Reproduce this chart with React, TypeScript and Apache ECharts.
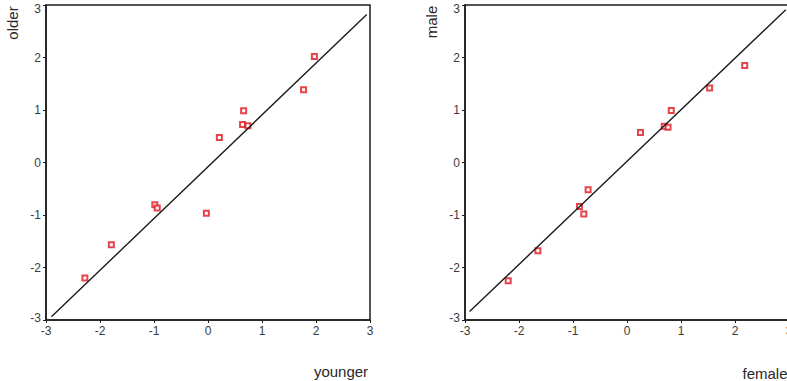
import React, { useEffect, useRef } from "react";
import * as echarts from "echarts";

const axisTicks = [-3, -2, -1, 0, 1, 2, 3];

const youngerValues = [1.97, 1.77, 0.66, 0.64, 0.74, 0.21, -0.985, -0.94, -0.03, -1.79, -2.28];
const olderValues = [2.02, 1.385, 0.985, 0.725, 0.7, 0.475, -0.805, -0.865, -0.965, -1.565, -2.2];

const femaleValues = [2.18, 1.53, 0.82, 0.69, 0.76, 0.25, -0.72, -0.88, -0.8, -1.65, -2.2];
const maleValues = [1.85, 1.42, 0.99, 0.69, 0.67, 0.57, -0.52, -0.84, -0.98, -1.68, -2.25];

const leftLineX = [-2.9, 2.94];
const leftLineY = [-2.94, 2.82];
const rightLineX = [-2.915, 2.94];
const rightLineY = [-2.84, 2.91];

const AXIS_COLOR = "#1c1c1c";
const LABEL_COLOR = "#3a3a3a";
const RED = "#e0141e";

export default function App() {
  const ref = useRef<HTMLDivElement>(null);
  useEffect(() => {
    if (!ref.current) return;
    const chart = echarts.init(ref.current, undefined, { renderer: "svg" });
    const minT = axisTicks[0];
    const maxT = axisTicks[axisTicks.length - 1];
    const labelBase = { color: LABEL_COLOR, fontSize: 12, fontFamily: "Liberation Sans, Arial, sans-serif" };
    const mkAxis = (gridIndex: number, isY: boolean) => ({
      type: "value" as const,
      gridIndex,
      min: minT,
      max: maxT,
      interval: 1,
      axisLine: { show: true, onZero: false, lineStyle: { color: AXIS_COLOR, width: 1.5 } },
      axisTick: { show: true, length: 3, lineStyle: { color: AXIS_COLOR } },
      axisLabel: isY
        ? {
            ...labelBase,
            margin: 5,
            formatter: (v: number) => (v === maxT ? `{top|${v}}` : v === minT ? `{bot|${v}}` : `{n|${v}}`),
            rich: {
              top: { ...labelBase, padding: [8, 0, 0, 0] },
              bot: { ...labelBase, padding: [0, 0, 5, 0] },
              n: { ...labelBase },
            },
          }
        : { ...labelBase, margin: 5 },
      splitLine: { show: false },
    });
    const pairs = (xs: number[], ys: number[]) => xs.map((x, i) => [x, ys[i]]);
    const scatterStyle = {
      symbol: "rect",
      symbolSize: 5,
      itemStyle: { color: "#fff", borderColor: RED, borderWidth: 2 },
    };
    const lineStyle = {
      symbol: "none",
      lineStyle: { color: AXIS_COLOR, width: 1.4 },
      itemStyle: { color: AXIS_COLOR },
    };
    const nameStyle = {
      fill: "#2a2a2a",
      fontSize: 15,
      fontFamily: "Liberation Sans, Arial, sans-serif",
    };
    chart.setOption({
      animation: false,
      backgroundColor: "#fff",
      grid: [
        { left: 46, top: 5, width: 324, height: 315, show: true, borderColor: AXIS_COLOR, borderWidth: 1.5, backgroundColor: "transparent", outerBoundsMode: "none", containLabel: false },
        { left: 465, top: 5, width: 324, height: 315, show: true, borderColor: AXIS_COLOR, borderWidth: 1.5, backgroundColor: "transparent", outerBoundsMode: "none", containLabel: false },
      ],
      xAxis: [mkAxis(0, false), mkAxis(1, false)],
      yAxis: [mkAxis(0, true), mkAxis(1, true)],
      graphic: [
        { type: "text", x: 12, y: 23, rotation: Math.PI / 2, style: { ...nameStyle, text: "older", textAlign: "center", textVerticalAlign: "middle" } },
        { type: "text", x: 341, y: 371, style: { ...nameStyle, text: "younger", textAlign: "center", textVerticalAlign: "middle" } },
        { type: "text", x: 431, y: 22, rotation: Math.PI / 2, style: { ...nameStyle, text: "male", textAlign: "center", textVerticalAlign: "middle" } },
        { type: "text", x: 765, y: 373, style: { ...nameStyle, text: "female", textAlign: "center", textVerticalAlign: "middle" } },
      ],
      series: [
        { type: "line", xAxisIndex: 0, yAxisIndex: 0, data: pairs(leftLineX, leftLineY), ...lineStyle },
        { type: "scatter", xAxisIndex: 0, yAxisIndex: 0, data: pairs(youngerValues, olderValues), ...scatterStyle },
        { type: "line", xAxisIndex: 1, yAxisIndex: 1, data: pairs(rightLineX, rightLineY), ...lineStyle },
        { type: "scatter", xAxisIndex: 1, yAxisIndex: 1, data: pairs(femaleValues, maleValues), ...scatterStyle },
      ],
    });
    return () => chart.dispose();
  }, []);
  return (
    <div
      ref={ref}
      style={{ position: "absolute", left: 0, top: 0, width: 787, height: 381, overflow: "hidden" }}
    />
  );
}
